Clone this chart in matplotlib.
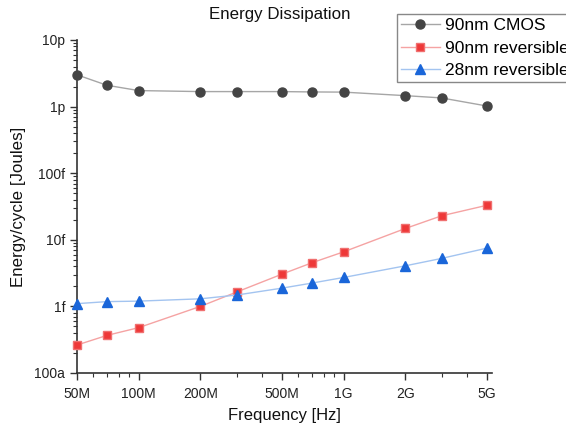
import matplotlib
matplotlib.use("Agg")
import matplotlib.pyplot as plt
from matplotlib.ticker import FixedLocator, FixedFormatter, LogLocator, NullFormatter

plt.rcParams['font.family'] = ['Liberation Sans', 'DejaVu Sans']

freq = [50e6, 70e6, 100e6, 200e6, 300e6, 500e6, 700e6, 1e9, 2e9, 3e9, 5e9]
cmos_90 = [3.0e-12, 2.09e-12, 1.74e-12, 1.68e-12, 1.68e-12, 1.68e-12, 1.66e-12, 1.65e-12, 1.46e-12, 1.35e-12, 1.02e-12]
rev_90 = [0.263e-15, 0.367e-15, 0.48e-15, 1.0e-15, 1.64e-15, 3.05e-15, 4.52e-15, 6.6e-15, 14.8e-15, 22.9e-15, 33e-15]
rev_28 = [1.1e-15, 1.18e-15, 1.2e-15, 1.3e-15, 1.48e-15, 1.88e-15, 2.24e-15, 2.72e-15, 4.07e-15, 5.25e-15, 7.5e-15]

xticks = [50e6, 100e6, 200e6, 500e6, 1e9, 2e9, 5e9]
xticklabels = ['50M', '100M', '200M', '500M', '1G', '2G', '5G']
yticks = [1e-16, 1e-15, 1e-14, 1e-13, 1e-12, 1e-11]
yticklabels = ['100a', '1f', '10f', '100f', '1p', '10p']

fig = plt.figure(figsize=(5.66, 4.30), dpi=100)
ax = fig.add_axes([77/566, 1-373/430, (492-77)/566, (373-40)/430])

ax.plot(freq, cmos_90, color='#a6a6a6', lw=1.0, marker='o', ms=6.5,
        mfc='#444444', mec='#444444', label='90nm CMOS', clip_on=False, zorder=3)
ax.plot(freq, rev_90, color='#f5a3a3', lw=1.0, marker='s', ms=5.5,
        mfc='#ee3838', mec='#f07070', label='90nm reversible', clip_on=False, zorder=3)
ax.plot(freq, rev_28, color='#a3c4f0', lw=1.0, marker='^', ms=6.5,
        mfc='#1a66d9', mec='#1a66d9', label='28nm reversible', clip_on=False, zorder=3)

ax.set_xscale('log')
ax.set_yscale('log')
ax.set_xlim(50e6, 5.29e9)
ax.set_ylim(1e-16, 1e-11)

ax.xaxis.set_major_locator(FixedLocator(xticks))
ax.xaxis.set_major_formatter(FixedFormatter(xticklabels))
ax.xaxis.set_minor_locator(LogLocator(base=10, subs=(1, 2, 3, 4, 5, 6, 7, 8, 9)))
ax.xaxis.set_minor_formatter(NullFormatter())
ax.yaxis.set_major_locator(FixedLocator(yticks))
ax.yaxis.set_major_formatter(FixedFormatter(yticklabels))
ax.yaxis.set_minor_locator(LogLocator(base=10, subs=(2, 3, 4, 5, 6, 7, 8, 9)))
ax.yaxis.set_minor_formatter(NullFormatter())

for s in ['top', 'right']:
    ax.spines[s].set_visible(False)
for s in ['left', 'bottom']:
    ax.spines[s].set_color('#333333')
    ax.spines[s].set_linewidth(1.2)

ax.tick_params(axis='both', which='major', direction='out', length=5, width=1,
               colors='#333333', labelsize=10, labelcolor='#222222')
ax.tick_params(axis='both', which='minor', direction='out', length=3, width=0.8,
               colors='#333333')
ax.tick_params(axis='x', which='major', pad=5)

ax.set_xlabel('Frequency [Hz]', fontsize=12, labelpad=5, color='#111111')
ax.set_ylabel('Energy/cycle [Joules]', fontsize=12.2, labelpad=6, color='#111111')
fig.text(280/566, 1-14/430, 'Energy Dissipation', ha='center', va='center',
         fontsize=12.2, color='#111111')

leg = ax.legend(loc='upper left', bbox_to_anchor=(397/566, 1-14/430),
                bbox_transform=fig.transFigure, fontsize=12.5, frameon=True,
                fancybox=False, edgecolor='#888888', framealpha=1,
                borderpad=0.25, labelspacing=0.4, handlelength=2.2,
                handletextpad=0.3, borderaxespad=0)
leg.get_frame().set_linewidth(1.0)

fig.savefig('out.png', dpi=100)
